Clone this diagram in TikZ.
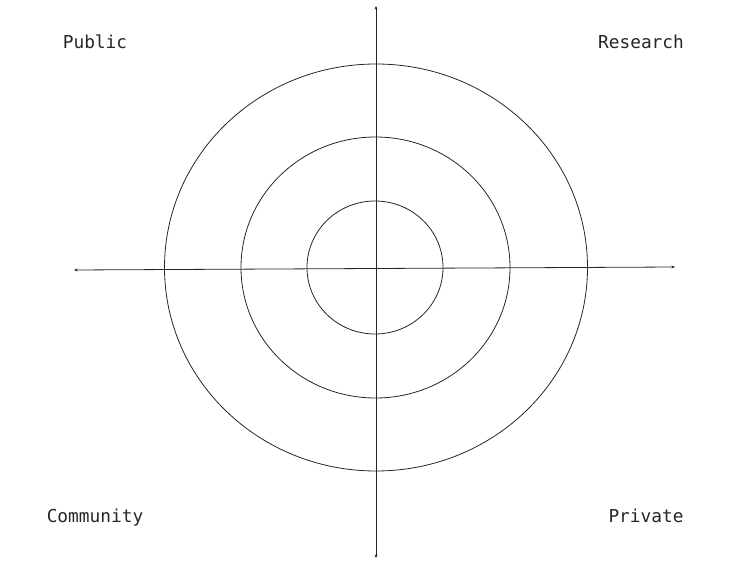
\documentclass[tikz,border=0pt]{standalone}
\usepackage{fontspec}
\setmonofont{DejaVu Sans Mono}
\usepackage{tikz}
\usetikzlibrary{arrows.meta}

\begin{document}
\begin{tikzpicture}[x=1pt, y=-1pt, >={Stealth[length=3.5pt,width=3pt]},
  quadrant/.style={anchor=base, font=\ttfamily\fontsize{17.8}{20}\selectfont, text=black!85}]
\useasboundingbox (0,0) rectangle (752,572);
\coordinate (top) at (376,6);
\coordinate (bottom) at (376,558);
\coordinate (left) at (74,270);
\coordinate (right) at (675,267);
\draw[<->, black!85, line width=0.8pt] (bottom) -- (top);
\draw[<->, black!85, line width=0.8pt] (left) -- (right);
% rings
\draw[black!85, line width=0.8pt] (376,267.5) ellipse [x radius=211.5, y radius=203.5];
\draw[black!85, line width=0.8pt] (375.5,267.5) ellipse [x radius=134.5, y radius=130.5];
\draw[black!85, line width=0.8pt] (375,267.5) ellipse [x radius=68, y radius=66.5];
\node[quadrant] (public) at (95,49) {Public};
\node[quadrant] (research) at (641,49) {Research};
\node[quadrant] (community) at (95,522) {Community};
\node[quadrant] (private) at (646,522) {Private};
\end{tikzpicture}
\end{document}
